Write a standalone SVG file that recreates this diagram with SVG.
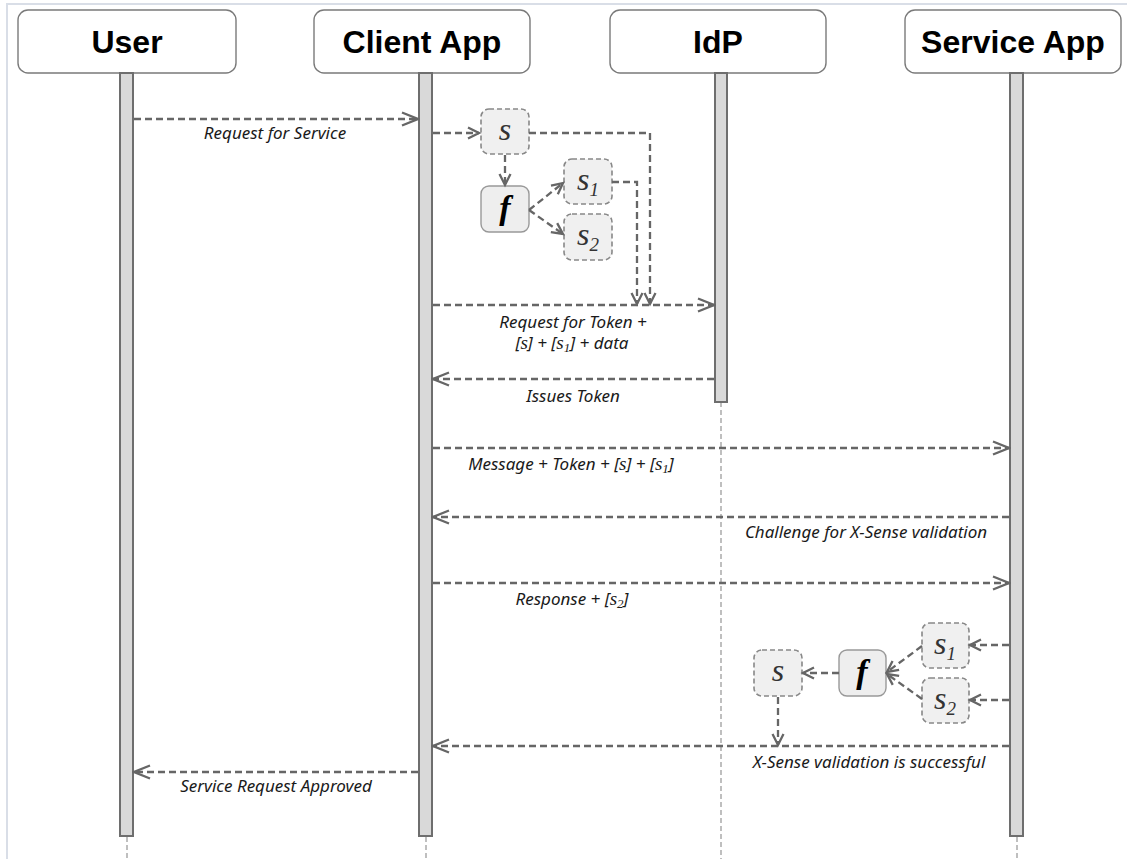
<svg xmlns="http://www.w3.org/2000/svg" width="1127" height="859" viewBox="0 0 1127 859">
<style>
.frame{fill:none;stroke:#d9dee7;stroke-width:2}
.head{fill:#fff;stroke:#7a7a7a;stroke-width:1.4}
.htxt{font-family:"Liberation Sans",Arial,sans-serif;font-weight:bold;font-size:32px;fill:#000;text-anchor:middle}
.bar{fill:#d9d9d9;stroke:#6e6e6e;stroke-width:2}
.life{stroke:#aaa;stroke-width:1.5;stroke-dasharray:5,3;fill:none}
.msg{stroke:#666;stroke-width:2.3;stroke-dasharray:7,4;fill:none}
.lbl{font-family:"Noto Sans","Open Sans",sans-serif;font-style:italic;font-size:17px;fill:#1a1a1a;text-anchor:middle}
.m{font-family:"Liberation Serif","Times New Roman",serif;font-style:italic}
.vbox{fill:#f0f0f0;stroke:#888;stroke-width:1.6;stroke-dasharray:5,3}
.fbox{fill:#eeeeee;stroke:#999;stroke-width:1.4}
.sym{font-family:"Liberation Serif","Times New Roman",serif;font-style:italic;font-size:32px;fill:#333;text-anchor:middle}
.fsym{font-family:"Liberation Serif","Times New Roman",serif;font-style:italic;font-weight:bold;font-size:34px;fill:#000;text-anchor:middle}
</style>
<defs>
<marker id="arr" markerUnits="userSpaceOnUse" markerWidth="20" markerHeight="16" viewBox="0 0 20 16" refX="18" refY="8" orient="auto">
<path d="M2,1.5 L18,8 L2,14.5" fill="none" stroke="#666" stroke-width="2.3" stroke-dasharray="none"/>
</marker>
<marker id="sarr" markerUnits="userSpaceOnUse" markerWidth="16" markerHeight="14" viewBox="0 0 16 14" refX="13" refY="7" orient="auto">
<path d="M2,1.5 L13,7 L2,12.5" fill="none" stroke="#666" stroke-width="2.3" stroke-dasharray="none"/>
</marker>
</defs>
<rect width="1127" height="859" fill="#fff"/>
<path class="frame" d="M7,870 V4 H1140"/>

<g id="user">
<rect class="head" x="18" y="10" width="218" height="63" rx="10"/>
<text class="htxt" x="127" y="53">User</text>
<line class="life" x1="127" y1="837" x2="127" y2="859"/>
<rect class="bar" x="120" y="73" width="13" height="763"/>
</g>
<g id="client">
<rect class="head" x="314" y="10" width="216" height="63" rx="10"/>
<text class="htxt" x="422" y="53">Client App</text>
<line class="life" x1="426" y1="837" x2="426" y2="859"/>
<rect class="bar" x="419" y="73" width="13" height="763"/>
</g>
<g id="idp">
<rect class="head" x="610" y="10" width="216" height="63" rx="10"/>
<text class="htxt" x="718" y="53">IdP</text>
<line class="life" x1="721" y1="402" x2="721" y2="859"/>
<rect class="bar" x="715" y="73" width="12" height="329"/>
</g>
<g id="service">
<rect class="head" x="905" y="10" width="216" height="63" rx="10"/>
<text class="htxt" x="1013" y="53">Service App</text>
<line class="life" x1="1017" y1="837" x2="1017" y2="859"/>
<rect class="bar" x="1010" y="73" width="13" height="763"/>
</g>

<g id="client-s"><rect class="vbox" x="481" y="109" width="48" height="45" rx="8"/><text class="sym" x="505" y="140">s</text></g>
<g id="client-f"><rect class="fbox" x="481" y="186" width="48" height="46" rx="8"/><text class="fsym" x="505" y="219">f</text></g>
<g id="client-s1"><rect class="vbox" x="564" y="159" width="48" height="45" rx="8"/><text class="sym" x="588" y="190">s<tspan font-size="19" dy="6">1</tspan></text></g>
<g id="client-s2"><rect class="vbox" x="564" y="214" width="48" height="46" rx="8"/><text class="sym" x="588" y="245">s<tspan font-size="19" dy="6">2</tspan></text></g>

<g id="svc-s1"><rect class="vbox" x="922" y="623" width="47" height="45" rx="8"/><text class="sym" x="945" y="654">s<tspan font-size="19" dy="6">1</tspan></text></g>
<g id="svc-s2"><rect class="vbox" x="922" y="678" width="47" height="45" rx="8"/><text class="sym" x="945" y="709">s<tspan font-size="19" dy="6">2</tspan></text></g>
<g id="svc-f"><rect class="fbox" x="839" y="650" width="47" height="46" rx="8"/><text class="fsym" x="862" y="683">f</text></g>
<g id="svc-s"><rect class="vbox" x="754" y="650" width="48" height="46" rx="8"/><text class="sym" x="778" y="681">s</text></g>

<g id="connectors">
<line class="msg" x1="134" y1="119" x2="418" y2="119" marker-end="url(#arr)"/>
<line class="msg" x1="433" y1="133" x2="479" y2="133" marker-end="url(#sarr)"/>
<path class="msg" d="M529,133 H650 V304" marker-end="url(#sarr)"/>
<line class="msg" x1="505" y1="155" x2="505" y2="185" marker-end="url(#sarr)"/>
<line class="msg" x1="529" y1="210" x2="563" y2="183" marker-end="url(#sarr)"/>
<line class="msg" x1="529" y1="210" x2="563" y2="234" marker-end="url(#sarr)"/>
<path class="msg" d="M612,182 H637 V304" marker-end="url(#sarr)"/>
<line class="msg" x1="433" y1="305" x2="714" y2="305" marker-end="url(#arr)"/>
<line class="msg" x1="714" y1="379" x2="433" y2="379" marker-end="url(#arr)"/>
<line class="msg" x1="433" y1="448" x2="1009" y2="448" marker-end="url(#arr)"/>
<line class="msg" x1="1009" y1="517" x2="433" y2="517" marker-end="url(#arr)"/>
<line class="msg" x1="433" y1="583" x2="1009" y2="583" marker-end="url(#arr)"/>
<line class="msg" x1="1009" y1="645" x2="970" y2="645" marker-end="url(#sarr)"/>
<line class="msg" x1="1009" y1="700" x2="970" y2="700" marker-end="url(#sarr)"/>
<line class="msg" x1="922" y1="646" x2="887" y2="672" marker-end="url(#sarr)"/>
<line class="msg" x1="922" y1="699" x2="887" y2="674" marker-end="url(#sarr)"/>
<line class="msg" x1="839" y1="673" x2="803" y2="673" marker-end="url(#sarr)"/>
<line class="msg" x1="778" y1="697" x2="778" y2="745" marker-end="url(#sarr)"/>
<line class="msg" x1="1009" y1="746" x2="433" y2="746" marker-end="url(#arr)"/>
<line class="msg" x1="418" y1="772" x2="134" y2="772" marker-end="url(#arr)"/>
</g>

<g id="labels">
<text class="lbl" x="275" y="139">Request for Service</text>
<text class="lbl" x="573" y="328">Request for Token +</text>
<text class="lbl" x="572" y="349">[<tspan class="m" font-size="19">s</tspan>] + [<tspan class="m" font-size="19">s</tspan><tspan class="m" font-size="13" dy="3">1</tspan><tspan dy="-3">] + data</tspan></text>
<text class="lbl" x="573" y="402">Issues Token</text>
<text class="lbl" x="571" y="470">Message + Token + [<tspan class="m" font-size="19">s</tspan>] + [<tspan class="m" font-size="19">s</tspan><tspan class="m" font-size="13" dy="3">1</tspan><tspan dy="-3">]</tspan></text>
<text class="lbl" x="866" y="538">Challenge for X-Sense validation</text>
<text class="lbl" x="572" y="605">Response + [<tspan class="m" font-size="19">s</tspan><tspan class="m" font-size="13" dy="3">2</tspan><tspan dy="-3">]</tspan></text>
<text class="lbl" x="869" y="768">X-Sense validation is successful</text>
<text class="lbl" x="276" y="792">Service Request Approved</text>
</g>
</svg>
